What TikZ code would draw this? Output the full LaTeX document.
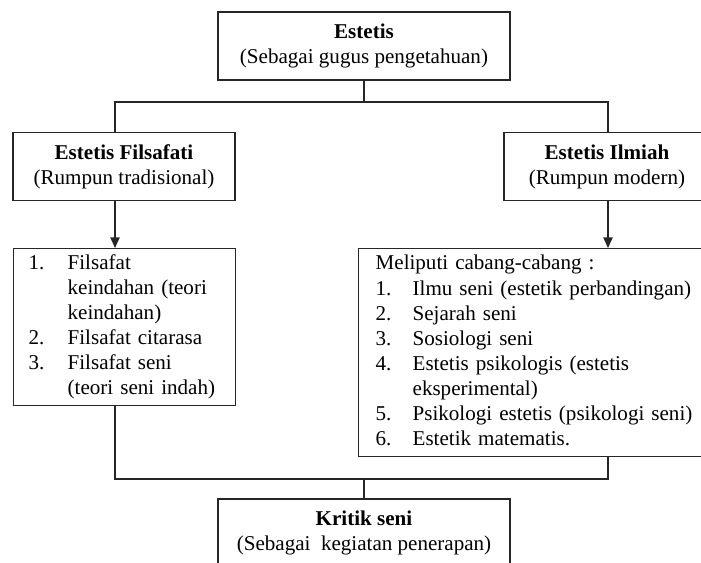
\documentclass[tikz,border=0pt]{standalone}
\usepackage{fontspec}
\setmainfont{Liberation Serif}
\usetikzlibrary{arrows.meta}

\begin{document}
\begin{tikzpicture}[x=0.75pt, y=-0.75pt, line width=1pt, color=black!85,
    every node/.style={font=\fontsize{15.8pt}{18.8pt}\selectfont, text=black},
    headbox/.style={draw, rectangle, align=center, minimum height=51pt, inner sep=0pt},
    listbox/.style={draw, rectangle, align=left, anchor=north west, inner ysep=0pt},
    arr/.style={-{Triangle[length=8pt,width=7pt]}}]
        \useasboundingbox (0,0) rectangle (701,562);

        \node [headbox, minimum width=219pt] (estetis) at (364,46) {\textbf{Estetis}\\(Sebagai gugus pengetahuan)};
        \node [headbox, minimum width=166.5pt] (filsafati) at (124,166.5) {\textbf{Estetis Filsafati}\\(Rumpun tradisional)};
        \node [headbox, minimum width=154.5pt] (ilmiah) at (607,166.5) {\textbf{Estetis Ilmiah}\\(Rumpun modern)};
        \node [headbox, minimum width=219pt] (kritik) at (364,533) {\textbf{Kritik seni}\\(Sebagai~ kegiatan penerapan)};

        \node [listbox, inner xsep=11.25pt, text width=144pt, minimum height=117.75pt] (filsafatlist) at (13,248) {%
            \begin{tabular}{@{}p{29.25pt}@{}l@{}}
            1. & Filsafat\\
               & keindahan (teori\\
               & keindahan)\\
            2. & Filsafat citarasa\\
            3. & Filsafat seni\\
               & (teori seni indah)
            \end{tabular}};
        \node [listbox, inner xsep=12.75pt, text width=238.5pt, minimum height=156pt] (ilmiahlist) at (358,248) {%
            \begin{tabular}{@{}p{27.75pt}@{}l@{}}
            \multicolumn{2}{@{}l@{}}{Meliputi cabang-cabang :}\\
            1. & Ilmu seni (estetik perbandingan)\\
            2. & Sejarah seni\\
            3. & Sosiologi seni\\
            4. & Estetis psikologis (estetis\\
               & eksperimental)\\
            5. & Psikologi estetis (psikologi seni)\\
            6. & Estetik matematis.
            \end{tabular}};

        \coordinate (lcol) at (115,102);
        \coordinate (rcol) at (608,102);
        \coordinate (split) at (364,102);
        \coordinate (join) at (364,479);

        \draw (estetis.south) -- (split);
        \draw (filsafati.north -| lcol) -- (lcol) -- (rcol) -- (ilmiah.north -| rcol);
        \draw [arr] (filsafati.south -| lcol) -- (filsafatlist.north -| lcol);
        \draw [arr] (ilmiah.south -| rcol) -- (ilmiahlist.north -| rcol);
        \draw (filsafatlist.south -| lcol) |- (join) -| (ilmiahlist.south -| rcol);
        \draw (join) -- (kritik.north);
\end{tikzpicture}
\end{document}
